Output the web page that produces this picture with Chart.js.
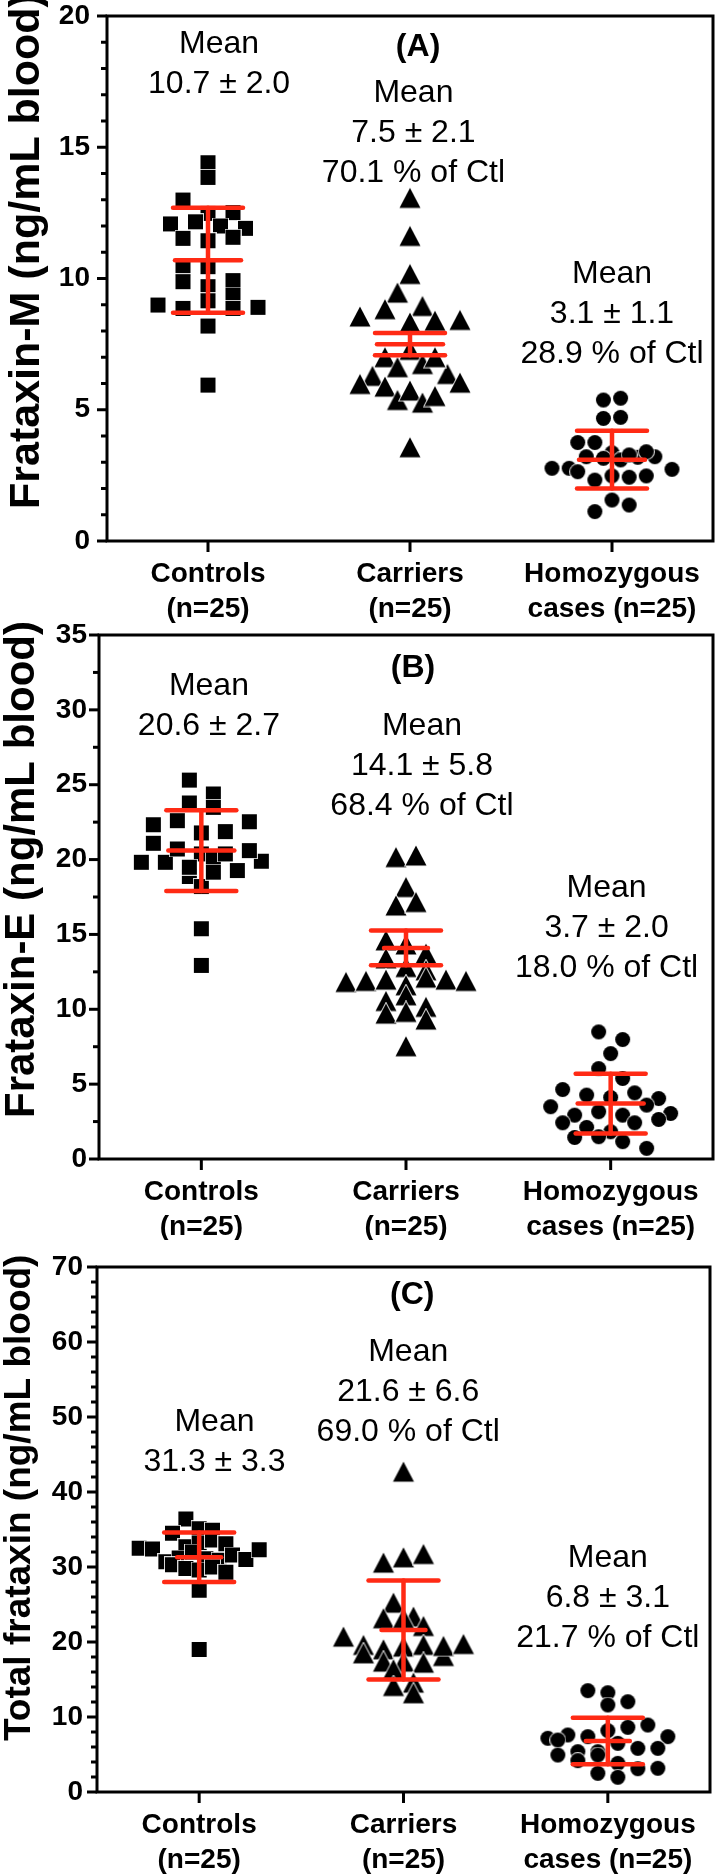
<!DOCTYPE html>
<html>
<head>
<meta charset="utf-8">
<script src="https://cdn.jsdelivr.net/npm/chart.js@4.4.0/dist/chart.umd.min.js"></script>
<style>
  body { margin: 0; background: #fff; }
  #wrap { position: relative; width: 721px; height: 1875px; overflow: hidden; }
  canvas { position: absolute; left: 0; }
</style>
</head>
<body>
<div id="wrap">
  <canvas id="chartA" width="721" height="660" style="top:-20px"></canvas>
  <canvas id="chartB" width="721" height="640" style="top:600px"></canvas>
  <canvas id="chartC" width="721" height="645" style="top:1230px"></canvas>
</div>
<script>
// DATA ---------------------------------------------------------
var groupNames = ['Controls', 'Carriers', 'Homozygous'];
var groupSub = ['(n=25)', '(n=25)', 'cases (n=25)'];

// (A) Frataxin-M, ng/mL blood
var mControls = [14.41, 13.85, 12.99, 12.48, 12.51, 12.08, 12.16, 12.0, 11.91, 11.53, 11.44, 11.57, 10.39,
                 10.45, 9.92, 9.88, 9.69, 8.99, 9.37, 8.86, 9.15, 8.86, 8.90, 8.19, 5.94];
var mCarriers = [13.07, 11.62, 10.17, 9.46, 8.55, 8.95, 8.83, 8.32, 8.39, 8.42, 7.0, 7.28, 6.29,
                 6.62, 6.74, 6.36, 7.0, 5.98, 5.88, 5.37, 5.73, 5.27, 5.52, 6.03, 3.57];
var mHomozygous = [5.37, 5.44, 4.67, 4.71, 3.75, 3.75, 3.36, 2.77, 2.77, 3.21, 2.64, 3.15, 2.32,
                   3.09, 2.48, 3.19, 2.43, 3.21, 2.48, 3.28, 3.4, 2.73, 1.12, 1.56, 1.37];
var mMeans = [10.7, 7.5, 3.1];
var mErrors = [2.0, 0.42, 1.1];   // carriers bar is drawn as SEM in the figure
var mNotes = [['Mean', '10.7 \u00b1 2.0'], ['Mean', '7.5 \u00b1 2.1', '70.1 % of Ctl'], ['Mean', '3.1 \u00b1 1.1', '28.9 % of Ctl']];

// (B) Frataxin-E, ng/mL blood
var eControls = [25.31, 24.38, 23.78, 23.49, 22.33, 22.6, 21.78, 21.87, 22.53, 21.09, 19.82, 19.82, 20.71,
                 18.87, 20.38, 19.49, 18.2, 20.11, 19.16, 20.38, 19.27, 19.89, 20.6, 15.38, 12.93];
var eCarriers = [20.16, 20.27, 18.16, 16.93, 17.16, 14.6, 14.33, 13.71, 13.4, 12.82, 12.6, 11.82, 11.89,
                 11.98, 11.6, 12.11, 11.98, 11.89, 10.55, 10.93, 10.16, 9.71, 9.82, 9.31, 7.53];
var eHomozygous = [8.49, 7.98, 7.04, 6.04, 5.38, 4.64, 4.27, 4.11, 4.42, 4.04, 3.49, 2.93, 3.16,
                   2.93, 3.6, 3.04, 2.42, 2.11, 1.44, 1.82, 2.42, 2.64, 1.49, 1.16, 0.71];
var eMeans = [20.6, 14.1, 3.7];
var eErrors = [2.7, 1.16, 2.0];
var eNotes = [['Mean', '20.6 \u00b1 2.7'], ['Mean', '14.1 \u00b1 5.8', '68.4 % of Ctl'], ['Mean', '3.7 \u00b1 2.0', '18.0 % of Ctl']];

// (C) Total frataxin, ng/mL blood
var tControls = [36.4, 34.5, 35.1, 34.9, 32.5, 32.7, 33.2, 33.6, 33.1, 32.4, 30.7, 31.2, 30.3,
                 32.0, 31.1, 30.9, 29.8, 31.6, 29.6, 31.0, 32.3, 30.0, 29.3, 26.9, 19.0];
var tCarriers = [42.71, 30.58, 31.29, 31.73, 25.24, 23.16, 23.38, 23.16, 22.13, 20.71, 19.6, 19.02, 19.38,
                 19.6, 18.49, 17.38, 17.38, 17.24, 18.13, 19.47, 19.73, 16.36, 14.58, 14.13, 13.16];
var tHomozygous = [13.51, 13.24, 11.6, 12.04, 7.16, 7.6, 6.93, 7.38, 5.38, 5.38, 4.93, 8.18, 8.62,
                   8.93, 7.38, 6.49, 5.82, 5.82, 4.18, 4.93, 3.82, 3.1, 3.16, 2.49, 1.96];
var tMeans = [31.3, 21.6, 6.8];
var tErrors = [3.3, 6.6, 3.1];
var tNotes = [['Mean', '31.3 \u00b1 3.3'], ['Mean', '21.6 \u00b1 6.6', '69.0 % of Ctl'], ['Mean', '6.8 \u00b1 3.1', '21.7 % of Ctl']];

// STYLE --------------------------------------------------------
var FONT = "'Liberation Sans', Arial, Helvetica, sans-serif";
var RED = '#ff2a14';
var BIN = 14;        // px, row height for the scatter layout
var SPREAD = 120;    // px, widest row of a column
var MAXSTEP = 25;

// marker images: black with a thin white rim, like the original
function marker(kind) {
  var c = document.createElement('canvas');
  var w = kind === 'tri' ? 24 : 17, h = kind === 'tri' ? 23 : 17;
  c.width = w; c.height = h;
  var g = c.getContext('2d');
  g.beginPath();
  if (kind === 'rect') g.rect(1, 1, 15, 15);
  else if (kind === 'circle') g.arc(8.5, 8.5, 7.5, 0, Math.PI * 2);
  else { g.moveTo(12, 1.5); g.lineTo(22.5, 21.5); g.lineTo(1.5, 21.5); g.closePath(); }
  g.strokeStyle = 'rgba(255,255,255,0.85)'; g.lineWidth = 2; g.stroke();
  g.fillStyle = '#000'; g.fill();
  return c;
}
var markers = [marker('rect'), marker('tri'), marker('circle')];

function seg(c, x1, y1, x2, y2) {
  c.beginPath(); c.moveTo(x1, y1); c.lineTo(x2, y2); c.stroke();
}

// GraphPad-like column scatter: bin values in rows, spread each row sideways
function swarm(chart) {
  var xs = chart.scales.x, ys = chart.scales.y;
  var unit = xs.getPixelForValue(1) - xs.getPixelForValue(0);
  chart.data.datasets.forEach(function(ds, g) {
    var vals = ds.values;
    var py = vals.map(function(v) { return ys.getPixelForValue(v); });
    var order = vals.map(function(v, i) { return i; }).sort(function(p, q) { return py[p] - py[q]; });
    var rows = [], row = null;
    order.forEach(function(i) {
      if (!row || py[i] - row.start >= BIN) { row = { start: py[i], idx: [] }; rows.push(row); }
      row.idx.push(i);
    });
    var most = Math.max.apply(null, rows.map(function(r) { return r.idx.length; }));
    var step = most > 1 ? Math.min(SPREAD / (most - 1), MAXSTEP) : 0;
    var off = [];
    rows.forEach(function(r) {
      r.idx.sort(function(p, q) { return p - q; });
      r.idx.forEach(function(i, k) { off[i] = (k - (r.idx.length - 1) / 2) * step / unit; });
    });
    ds.data = vals.map(function(v, i) { return { x: g + off[i], y: v }; });
  });
  chart.update('none');
}

function drawPanel(chart, cfg) {
  var c = chart.ctx, a = chart.chartArea, xs = chart.scales.x, ys = chart.scales.y;
  c.save();
  // mean and error bars
  c.strokeStyle = RED; c.lineCap = 'round'; c.lineWidth = 4.5;
  cfg.means.forEach(function(m, i) {
    var cx = xs.getPixelForValue(i);
    var yt = ys.getPixelForValue(m + cfg.errors[i]);
    var yb = ys.getPixelForValue(m - cfg.errors[i]);
    var ym = ys.getPixelForValue(m);
    seg(c, cx, yt, cx, yb);
    seg(c, cx - 35, yt, cx + 35, yt);
    seg(c, cx - 35, yb, cx + 35, yb);
    seg(c, cx - cfg.meanHalf[i], ym, cx + cfg.meanHalf[i], ym);
  });
  // frame + ticks
  c.strokeStyle = '#000'; c.lineCap = 'butt'; c.lineWidth = 3;
  c.strokeRect(a.left, a.top, a.right - a.left, a.bottom - a.top);
  var n = Math.round(cfg.yMax / cfg.minor);
  for (var k = 0; k <= n; k++) {
    var v = k * cfg.minor;
    var major = Math.abs(v / cfg.major - Math.round(v / cfg.major)) < 1e-6;
    var py = ys.getPixelForValue(v);
    seg(c, a.left - (major ? 10 : 6), py, a.left, py);
  }
  for (var i = 0; i < 3; i++) {
    var px = xs.getPixelForValue(i);
    seg(c, px, a.bottom, px, a.bottom + 11);
  }
  // text notes
  c.fillStyle = '#000'; c.textAlign = 'center'; c.textBaseline = 'middle';
  c.font = '32px ' + FONT;
  cfg.notes.forEach(function(nt) {
    var x = xs.getPixelForValue(nt.x), y = ys.getPixelForValue(nt.y);
    nt.lines.forEach(function(s, j) { c.fillText(s, x, y + j * 40); });
  });
  c.font = 'bold 32px ' + FONT;
  c.fillText(cfg.letter, xs.getPixelForValue(cfg.letterX), ys.getPixelForValue(cfg.letterY));
  // y axis title
  c.translate(cfg.titleX, cfg.titleY);
  c.rotate(-Math.PI / 2);
  c.textAlign = 'left'; c.textBaseline = 'alphabetic';
  c.font = 'bold ' + cfg.titleSize + 'px ' + FONT;
  c.fillText(cfg.title, 0, 0);
  c.restore();
}

function makePanel(id, cfg) {
  var canvas = document.getElementById(id);
  var datasets = cfg.groups.map(function(vals, g) {
    return {
      values: vals,
      data: vals.map(function(v) { return { x: g, y: v }; }),
      pointStyle: markers[g],
      pointRadius: 8,
      pointHoverRadius: 8,
      backgroundColor: '#000',
      borderWidth: 0
    };
  });
  var xFont = { family: FONT, size: 28, weight: 'bold', lineHeight: 1.25 };
  var yFont = { family: FONT, size: 28, weight: 'bold', lineHeight: 1.0 };
  var chart = new Chart(canvas, {
    type: 'scatter',
    data: { datasets: datasets },
    options: {
      responsive: false,
      animation: false,
      devicePixelRatio: 1,
      events: [],
      layout: { padding: { top: cfg.top, right: 721 - cfg.right, left: 0, bottom: 0 } },
      plugins: { legend: { display: false }, tooltip: { enabled: false } },
      scales: {
        x: {
          type: 'linear', min: -0.5, max: 2.5,
          afterBuildTicks: function(s) { s.ticks = [0, 1, 2].map(function(v) { return { value: v }; }); },
          afterFit: function(s) { s.height = canvas.height - cfg.bottom; },
          grid: { display: false, drawTicks: false },
          border: { display: false },
          ticks: {
            autoSkip: false, maxRotation: 0, padding: 16, color: '#000', font: xFont,
            callback: function(v) { var i = Math.round(v); return [groupNames[i], groupSub[i]]; }
          }
        },
        y: {
          min: 0, max: cfg.yMax,
          afterFit: function(s) { s.width = cfg.left; },
          grid: { display: false, drawTicks: false },
          border: { display: false },
          ticks: { stepSize: cfg.major, padding: cfg.yPad, color: '#000', font: yFont }
        }
      }
    },
    plugins: [{ id: 'panel' + id, afterDatasetsDraw: function(ch) { drawPanel(ch, cfg); } }]
  });
  swarm(chart);
  return chart;
}

var noteX = [[0.055, 1.017, 2.0], [0.037, 1.078, 1.98], [0.075, 1.023, 2.0]];

// canvas A starts 20px above the page so its top tick label has room
makePanel('chartA', {
  groups: [mControls, mCarriers, mHomozygous], means: mMeans, errors: mErrors, meanHalf: [33, 33, 33],
  yMax: 20, major: 5, minor: 1, top: 36, bottom: 561, left: 107, right: 718, yPad: 17,
  title: 'Frataxin-M (ng/mL blood)', titleSize: 43, titleX: 39, titleY: 529,
  letter: '(A)', letterX: 1.04, letterY: 18.82,
  notes: [{ x: noteX[0][0], y: 18.93, lines: mNotes[0] }, { x: noteX[0][1], y: 17.07, lines: mNotes[1] },
          { x: noteX[0][2], y: 10.17, lines: mNotes[2] }]
});

makePanel('chartB', {
  groups: [eControls, eCarriers, eHomozygous], means: eMeans, errors: eErrors, meanHalf: [33, 22, 33],
  yMax: 35, major: 5, minor: 2.5, top: 35, bottom: 559, left: 99, right: 713, yPad: 12,
  title: 'Frataxin-E (ng/mL blood)', titleSize: 42, titleX: 34, titleY: 518,
  letter: '(B)', letterX: 1.034, letterY: 32.8,
  notes: [{ x: noteX[1][0], y: 31.6, lines: eNotes[0] }, { x: noteX[1][1], y: 28.93, lines: eNotes[1] },
          { x: noteX[1][2], y: 18.07, lines: eNotes[2] }]
});

makePanel('chartC', {
  groups: [tControls, tCarriers, tHomozygous], means: tMeans, errors: tErrors, meanHalf: [22, 22, 22],
  yMax: 70, major: 10, minor: 2, top: 37, bottom: 562, left: 97, right: 710, yPad: 14,
  title: 'Total frataxin (ng/mL blood)', titleSize: 37, titleX: 30, titleY: 511,
  letter: '(C)', letterX: 1.043, letterY: 66.27,
  notes: [{ x: noteX[2][0], y: 49.33, lines: tNotes[0] }, { x: noteX[2][1], y: 58.67, lines: tNotes[1] },
          { x: noteX[2][2], y: 31.2, lines: tNotes[2] }]
});
</script>
</body>
</html>
